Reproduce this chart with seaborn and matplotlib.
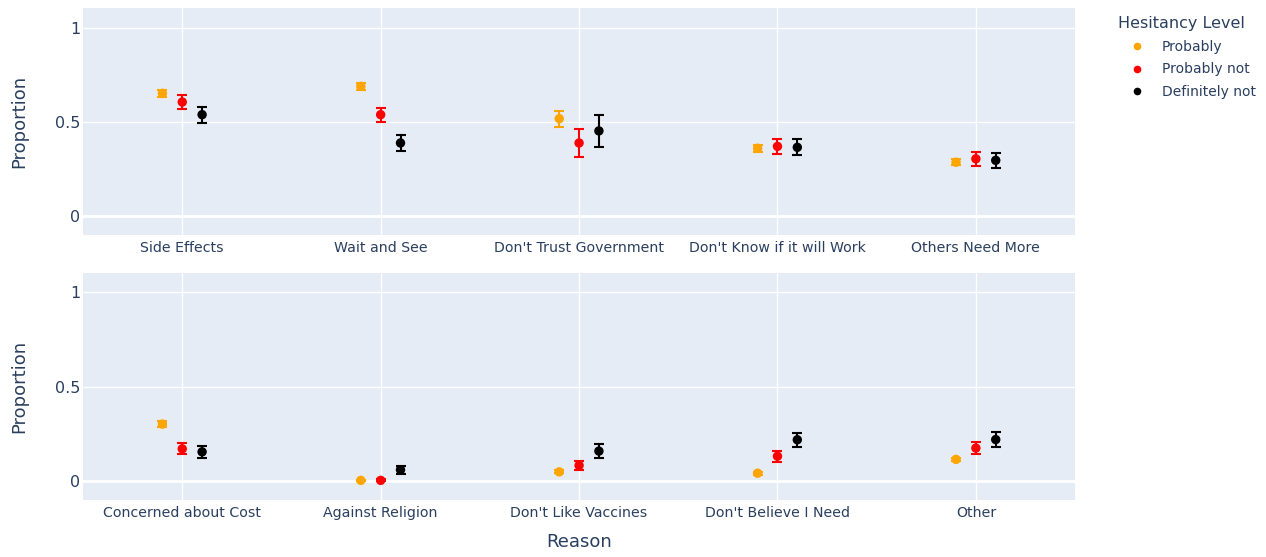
import matplotlib
matplotlib.use("Agg")
import matplotlib.pyplot as plt
from matplotlib.lines import Line2D
import seaborn as sns
import pandas as pd
import numpy as np

levels = ["Probably", "Probably not", "Definitely not"]
colors = ["#FFA500", "#FF0000", "#000000"]

reasons_top = ["Side Effects", "Wait and See", "Don't Trust Government",
               "Don't Know if it will Work", "Others Need More"]
reasons_bottom = ["Concerned about Cost", "Against Religion", "Don't Like Vaccines",
                  "Don't Believe I Need", "Other"]

# proportions per hesitancy level, one value per reason
top_prob = [0.651, 0.688, 0.517, 0.360, 0.286]
top_prob_not = [0.605, 0.538, 0.388, 0.370, 0.304]
top_def_not = [0.538, 0.388, 0.452, 0.365, 0.296]
top_err_prob = [0.019, 0.018, 0.042, 0.018, 0.017]
top_err_prob_not = [0.039, 0.038, 0.076, 0.039, 0.038]
top_err_def_not = [0.043, 0.042, 0.085, 0.043, 0.040]

bot_prob = [0.302, 0.004, 0.049, 0.042, 0.115]
bot_prob_not = [0.171, 0.004, 0.083, 0.132, 0.175]
bot_def_not = [0.155, 0.060, 0.159, 0.219, 0.220]
bot_err_prob = [0.018, 0.002, 0.008, 0.007, 0.010]
bot_err_prob_not = [0.030, 0.005, 0.023, 0.030, 0.032]
bot_err_def_not = [0.033, 0.021, 0.035, 0.038, 0.039]

yticks = [0, 0.5, 1]
ytick_labels = ["0", "0.5", "1"]


def make_df(reasons, vals, errs):
    rows = []
    for li, lev in enumerate(levels):
        for ri, r in enumerate(reasons):
            rows.append({"reason": r, "level": lev, "prop": vals[li][ri],
                         "err": errs[li][ri], "rcode": ri, "lcode": li})
    return pd.DataFrame(rows)


df_top = make_df(reasons_top, [top_prob, top_prob_not, top_def_not],
                 [top_err_prob, top_err_prob_not, top_err_def_not])
df_bot = make_df(reasons_bottom, [bot_prob, bot_prob_not, bot_def_not],
                 [bot_err_prob, bot_err_prob_not, bot_err_def_not])

TXT = "#2a3f5f"
BG = "#E5ECF6"
sns.set_theme(style="white")
plt.rcParams["font.family"] = ["DejaVu Sans"]

fig = plt.figure(figsize=(12.66, 5.57), dpi=100)
ax1 = fig.add_axes([0.0656, 0.578, 0.7836, 0.4075])
ax2 = fig.add_axes([0.0656, 0.1023, 0.7836, 0.408])

palette = dict(zip(levels, colors))
for ax, df, reasons in [(ax1, df_top, reasons_top), (ax2, df_bot, reasons_bottom)]:
    ax.set_facecolor(BG)
    df = df.copy()
    df["x"] = df["rcode"] + (df["lcode"] - 1) * 0.1
    for lev in levels:
        sub = df[df["level"] == lev]
        ax.errorbar(sub["x"], sub["prop"], yerr=sub["err"], fmt="none",
                    ecolor=palette[lev], elinewidth=1.5, capsize=3.6,
                    capthick=1.5, zorder=3)
    sns.scatterplot(data=df, x="x", y="prop", hue="level", palette=palette,
                    hue_order=levels, s=46, edgecolor="none", legend=False,
                    ax=ax, zorder=4)
    ax.set_xlim(-0.5, len(reasons) - 0.5)
    ax.set_ylim(-0.1, 1.103)
    ax.set_xticks(range(len(reasons)))
    ax.set_xticklabels(reasons)
    ax.set_yticks(yticks)
    ax.set_yticklabels(ytick_labels)
    ax.tick_params(axis="both", length=0, colors=TXT)
    ax.tick_params(axis="x", pad=4, labelsize=10.2)
    ax.tick_params(axis="y", pad=2, labelsize=11.5)
    for s in ax.spines.values():
        s.set_visible(False)
    ax.grid(True, color="white", linewidth=1.0, zorder=0)
    ax.axhline(0, color="white", linewidth=2.0, zorder=1)
    ax.set_axisbelow(True)
    ax.set_ylabel("Proportion", color=TXT, fontsize=13, labelpad=19.5)
    ax.set_xlabel("")

ax2.set_xlabel("Reason", color=TXT, fontsize=13, labelpad=10)

handles = [Line2D([0], [0], marker="o", linestyle="none", markersize=5.5,
                  markerfacecolor=c, markeredgecolor="none") for c in colors]
leg = fig.legend(handles, levels, title="Hesitancy Level", loc="upper left",
                 bbox_to_anchor=(0.883, 0.971), frameon=False, fontsize=10,
                 title_fontsize=11.5, alignment="left", handlelength=2.73,
                 handletextpad=0.45, labelspacing=0.62, borderaxespad=0,
                 borderpad=0)
for t in leg.get_texts():
    t.set_color(TXT)
leg.get_title().set_color(TXT)

fig.savefig("out.png", dpi=100)
